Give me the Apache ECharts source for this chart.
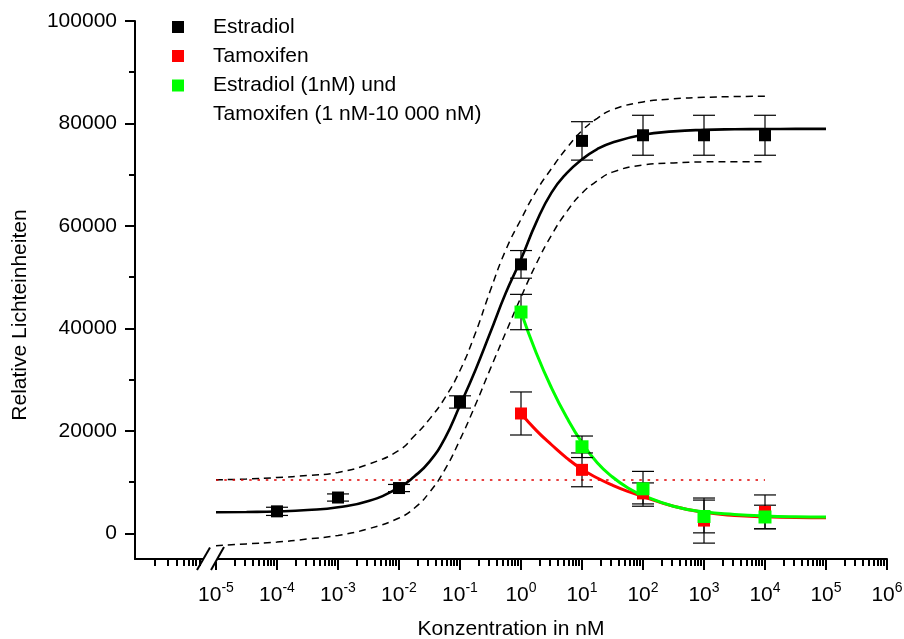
<!DOCTYPE html>
<html>
<head>
<meta charset="utf-8">
<script src="https://cdn.jsdelivr.net/npm/echarts@6/dist/echarts.min.js"></script>
<style>
  html, body { margin: 0; padding: 0; background: #fff; }
  #chart { width: 904px; height: 639px; }
</style>
</head>
<body>
<div id="chart"></div>
<script>
// Dose axis is log10(concentration in nM)
const doseLog = [-4, -3, -2, -1, 0, 1, 2, 3, 4];
const estradiolMean = [4300, 7000, 8850, 25650, 52500, 76600, 77700, 77700, 77700];
const estradiolErr = [800, 700, 700, 1200, 2700, 3750, 3900, 3900, 3900];

const tamoxDoseLog = [0, 1, 2, 3, 4];
const tamoxMean = [23400, 12400, 7800, 2500, 4200];
const tamoxErr = [4200, 3300, 2050, 4400, 3300];

const comboMean = [43200, 16900, 8700, 3300, 3200];
const comboErr = [3450, 2100, 3400, 3200, 2300];

// Fitted dose-response curve for estradiol, sampled along log10 dose
const fitLog = [-5, -4.5, -4, -3.5, -3, -2.5, -2, -1.75, -1.5, -1.25, -1, -0.75, -0.5, -0.25,
                0, 0.25, 0.5, 0.75, 1, 1.25, 1.5, 2, 2.5, 3, 3.5, 4, 4.5, 5];
const estradiolFit = [4130, 4180, 4280, 4550, 5100, 6300, 8950, 11100, 14000, 18500, 25000, 31800, 39300, 46900,
                      53500, 60700, 66500, 70300, 73000, 75000, 76300, 77800, 78450, 78750, 78870, 78920, 78940, 78950];

// 95% confidence band of the estradiol fit
const bandLog = [-5, -4.5, -4, -3.5, -3, -2.5, -2, -1.75, -1.5, -1.25, -1, -0.75, -0.5, -0.25,
                 0, 0.25, 0.5, 0.75, 1, 1.25, 1.5, 2, 2.5, 3, 3.5, 4];
const bandUpper = [10450, 10600, 10900, 11300, 11900, 13500, 16200, 19000, 22300, 26400, 31800, 39000, 47500, 55300,
                   61300, 66800, 71200, 75200, 78600, 81000, 82700, 84200, 84800, 85100, 85250, 85300];
const bandLower = [-2400, -2050, -1700, -1100, -400, 900, 3000, 4900, 8000, 12400, 18300, 25000, 32200, 39200,
                   46100, 52600, 58200, 62800, 66400, 68800, 70500, 71900, 72300, 72500, 72550, 72550];

// Inhibition curves (1 nM to 100 000 nM)
const inhibLog = [0, 0.25, 0.5, 0.75, 1, 1.25, 1.5, 1.75, 2, 2.5, 3, 3.5, 4, 4.5, 5];
const tamoxFit = [23400, 20100, 17300, 14700, 12500, 10800, 9400, 8200, 7200, 5300, 4100, 3500, 3250, 3100, 3050];
const comboFit = [43200, 35200, 28400, 22600, 17700, 13800, 11000, 8900, 7400, 5300, 4200, 3700, 3400, 3250, 3200];

// Basal level reference line
const refLevel = 10400;
const refRange = [-5, 4];

// Axis ticks
const decadeTicks = [-5, -4, -3, -2, -1, 0, 1, 2, 3, 4, 5, 6];
const leftSegmentTicks = [-6, -5.79, -5.645, -5.535, -5.455, -5.38, -5.33, -5.27];
const yMajorTicks = [0, 20000, 40000, 60000, 80000, 100000];
const yMinorTicks = [10000, 30000, 50000, 70000, 90000];

const minorTicks = leftSegmentTicks.slice();
for (let d = -5; d < 6; d++) {
  for (let k = 2; k <= 9; k++) minorTicks.push(d + Math.log10(k));
}

const font = '"Liberation Sans", Arial, Helvetica, sans-serif';
const X_MIN = -6.328, X_MAX = 6, Y_MIN = -5000, Y_MAX = 100000;

const pairs = (xs, ys) => xs.map((x, i) => [x, ys[i]]);
const withErr = (xs, ys, es) => xs.map((x, i) => [x, ys[i], es[i]]);

function errorBars(params, api) {
  const x = api.value(0), m = api.value(1), e = api.value(2);
  const top = api.coord([x, m + e]);
  const bot = api.coord([x, m - e]);
  const w = 11;
  const st = { stroke: '#000', lineWidth: 1.2 };
  return {
    type: 'group',
    children: [
      { type: 'line', shape: { x1: top[0], y1: top[1], x2: bot[0], y2: bot[1] }, style: st },
      { type: 'line', shape: { x1: top[0] - w, y1: top[1], x2: top[0] + w, y2: top[1] }, style: st },
      { type: 'line', shape: { x1: bot[0] - w, y1: bot[1], x2: bot[0] + w, y2: bot[1] }, style: st }
    ]
  };
}

const chart = echarts.init(document.getElementById('chart'));

const xBase = {
  type: 'value', min: X_MIN, max: X_MAX, position: 'bottom',
  splitLine: { show: false }
};
const yBase = {
  type: 'value', min: Y_MIN, max: Y_MAX, position: 'left',
  splitLine: { show: false }
};

const curve = (name, xs, ys, color, width, dash, z) => ({
  name, type: 'line', data: pairs(xs, ys), smooth: 0.5,
  showSymbol: false, lineStyle: { color, width, type: dash || 'solid' }, z
});

const markers = (name, xs, ys, color, size, z) => ({
  name, type: 'scatter', data: pairs(xs, ys), symbol: 'rect', symbolSize: size,
  itemStyle: { color, opacity: 1 }, z
});

chart.setOption({
  animation: false,
  textStyle: { fontFamily: font, color: '#000' },
  grid: { left: 135, right: 17, top: 21, bottom: 80, containLabel: false, outerBoundsMode: 'none' },
  xAxis: [
    Object.assign({}, xBase, {
      name: 'Konzentration in nM',
      nameLocation: 'middle',
      nameGap: 60,
      nameTextStyle: { fontSize: 21, color: '#000', fontFamily: font },
      axisLine: { show: true, onZero: false, lineStyle: { color: '#000', width: 2 } },
      axisTick: { show: true, customValues: decadeTicks, length: 11, lineStyle: { color: '#000', width: 2 } },
      axisLabel: {
        show: true, customValues: decadeTicks, margin: 22,
        formatter: v => '{b|10}{s|' + v + '}',
        rich: {
          b: { fontSize: 21, lineHeight: 28, color: '#000', fontFamily: font },
          s: { fontSize: 14, lineHeight: 12, verticalAlign: 'top', color: '#000', fontFamily: font }
        }
      }
    }),
    Object.assign({}, xBase, {
      axisLine: { show: false, onZero: false },
      axisTick: { show: true, customValues: minorTicks, length: 7, lineStyle: { color: '#000', width: 2 } },
      axisLabel: { show: false }
    })
  ],
  yAxis: [
    Object.assign({}, yBase, {
      axisLine: { show: true, onZero: false, lineStyle: { color: '#000', width: 2 } },
      axisTick: { show: true, customValues: yMajorTicks, length: 10, lineStyle: { color: '#000', width: 2 } },
      axisLabel: {
        show: true, customValues: yMajorTicks, margin: 18, fontSize: 21, color: '#000', fontFamily: font,
        formatter: v => String(v)
      }
    }),
    Object.assign({}, yBase, {
      axisLine: { show: false, onZero: false },
      axisTick: { show: true, customValues: yMinorTicks, length: 6, lineStyle: { color: '#000', width: 2 } },
      axisLabel: { show: false }
    })
  ],
  series: [
    curve('upper band', bandLog, bandUpper, '#000', 1.5, [7, 5], 2),
    curve('lower band', bandLog, bandLower, '#000', 1.5, [7, 5], 2),
    {
      name: 'basal', type: 'line', data: refRange.map(x => [x, refLevel]),
      showSymbol: false, lineStyle: { color: '#e00000', width: 1.5, type: [2.5, 5.8] }, z: 2
    },
    curve('Estradiol fit', fitLog, estradiolFit, '#000', 2.6, null, 3),
    curve('Tamoxifen fit', inhibLog, tamoxFit, '#ff0000', 3, null, 3),
    curve('Kombination fit', inhibLog, comboFit, '#00ff00', 3, null, 3),
    { type: 'custom', renderItem: errorBars, data: withErr(doseLog, estradiolMean, estradiolErr), encode: { x: 0, y: 1 }, z: 4 },
    { type: 'custom', renderItem: errorBars, data: withErr(tamoxDoseLog, tamoxMean, tamoxErr), encode: { x: 0, y: 1 }, z: 4 },
    { type: 'custom', renderItem: errorBars, data: withErr(tamoxDoseLog, comboMean, comboErr), encode: { x: 0, y: 1 }, z: 4 },
    markers('Tamoxifen', tamoxDoseLog, tamoxMean, '#ff0000', 12, 5),
    markers('Estradiol (1nM) und Tamoxifen', tamoxDoseLog, comboMean, '#00ff00', 13, 6),
    markers('Estradiol', doseLog, estradiolMean, '#000000', 12, 7)
  ]
});

// Legend, y-axis title and the axis break marks
const p0 = chart.convertToPixel({ xAxisIndex: 0, yAxisIndex: 0 }, [-5, Y_MIN]);
const bx = p0[0], by = p0[1];
const legendFont = { fontSize: 21, fontFamily: font, fill: '#000', align: 'left', verticalAlign: 'middle' };
const legendRows = [
  { color: '#000', text: 'Estradiol', y: 27 },
  { color: '#ff0000', text: 'Tamoxifen', y: 56 },
  { color: '#00ff00', text: 'Estradiol (1nM) und', y: 85.5 },
  { color: null, text: 'Tamoxifen (1 nM-10 000 nM)', y: 114.5 }
];
const graphics = [];
legendRows.forEach(r => {
  if (r.color) {
    graphics.push({ type: 'rect', shape: { x: 172, y: r.y - 6, width: 12, height: 12 }, style: { fill: r.color } });
  }
  graphics.push({ type: 'text', x: 213, y: r.y, style: Object.assign({ text: r.text }, legendFont) });
});
graphics.push({
  type: 'text', x: 20, y: 315, rotation: Math.PI / 2,
  style: { text: 'Relative Lichteinheiten', fontSize: 21, fontFamily: font, fill: '#000', align: 'center', verticalAlign: 'middle' }
});
graphics.push({ type: 'rect', shape: { x: bx - 12, y: by - 3, width: 13, height: 6 }, style: { fill: '#fff' }, z: 100 });
graphics.push({ type: 'line', shape: { x1: bx - 19, y1: by + 11, x2: bx - 6, y2: by - 11.5 }, style: { stroke: '#000', lineWidth: 2 }, z: 101 });
graphics.push({ type: 'line', shape: { x1: bx - 5, y1: by + 11, x2: bx + 8, y2: by - 12 }, style: { stroke: '#000', lineWidth: 2 }, z: 101 });
chart.setOption({ graphic: graphics });
</script>
</body>
</html>
